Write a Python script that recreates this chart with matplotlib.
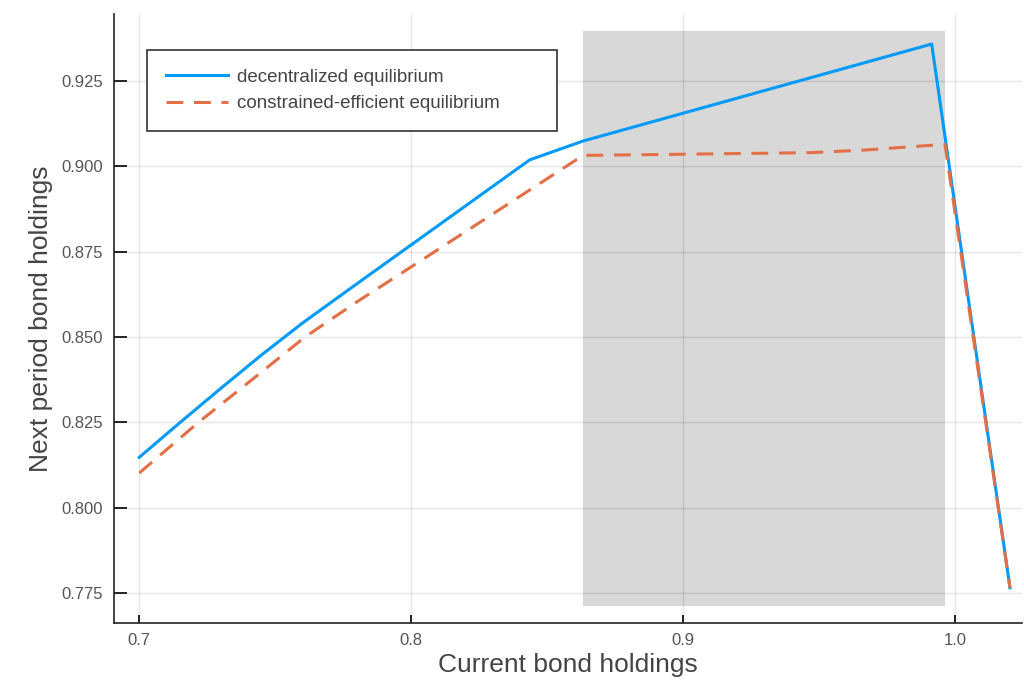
import matplotlib.pyplot as plt

# values
x_dec = [0.7, 0.715, 0.73, 0.745, 0.76, 0.78, 0.8, 0.8436, 0.8632, 0.9914, 1.0202]
y_dec = [0.8148, 0.8250, 0.8350, 0.8448, 0.8541, 0.8656, 0.8770, 0.9019, 0.9074, 0.9358, 0.7766]

x_ce = [0.7, 0.7217, 0.74, 0.7609, 0.78, 0.8032, 0.8632, 0.906, 0.9466, 0.9675, 0.9884, 0.9963,
        1.0202]
y_ce = [0.8102, 0.8250, 0.8366, 0.8500, 0.8603, 0.8722, 0.9032, 0.9036, 0.9040, 0.9048, 0.9060,
        0.9064, 0.7766]

shade_x = [0.8632, 0.9963]
shade_y = [0.7713, 0.9396]

xticks = [0.7, 0.8, 0.9, 1.0]
yticks = [0.775, 0.800, 0.825, 0.850, 0.875, 0.900, 0.925]

plt.rcParams['font.family'] = ['Liberation Sans', 'DejaVu Sans']

fig = plt.figure(figsize=(10.24, 6.89), dpi=100)
ax = fig.add_axes([0.1113, 0.0958, 0.8867, 0.8839])

ax.fill_between(shade_x, shade_y[0], shade_y[1], color='#d8d8d8', lw=0, zorder=1)
ax.plot(x_dec, y_dec, color='#009af9', lw=2.2, label='decentralized equilibrium', zorder=3)
ax.plot(x_ce, y_ce, color='#e26f46', lw=2.2, ls=(0, (5.5, 3.5)),
        label='constrained-efficient equilibrium', zorder=4)

ax.set_xlim(0.6907, 1.0246)
ax.set_ylim(0.7663, 0.9446)
ax.set_xticks(xticks)
ax.set_xticklabels(['0.7', '0.8', '0.9', '1.0'])
ax.set_yticks(yticks)
ax.set_yticklabels(['%.3f' % v for v in yticks])

ax.grid(True, color='black', alpha=0.1, lw=1)
for s in ['top', 'right']:
    ax.spines[s].set_visible(False)
for s in ['left', 'bottom']:
    ax.spines[s].set_linewidth(1.2)
    ax.spines[s].set_color('#222222')

ax.tick_params(axis='x', direction='in', length=6, width=1.2, labelsize=12,
               labelcolor='#555555', pad=7)
ax.tick_params(axis='y', direction='in', length=9, width=1.2, labelsize=12,
               labelcolor='#555555', pad=8)

ax.set_xlabel('Current bond holdings', fontsize=19, color='#444444', labelpad=4)
ax.set_ylabel('Next period bond holdings', fontsize=19, color='#444444', labelpad=6)

leg = ax.legend(loc='upper left', bbox_to_anchor=(0.0363, 0.8079, 0.4515, 0.133),
                mode='expand', borderaxespad=0, fontsize=13.5, fancybox=False,
                edgecolor='#333333', framealpha=1, handlelength=3.3,
                handletextpad=0.5, labelspacing=0.5, borderpad=1.0)
leg.get_frame().set_linewidth(1.2)
for t in leg.get_texts():
    t.set_color('#444444')

fig.savefig('out.png', dpi=100)
